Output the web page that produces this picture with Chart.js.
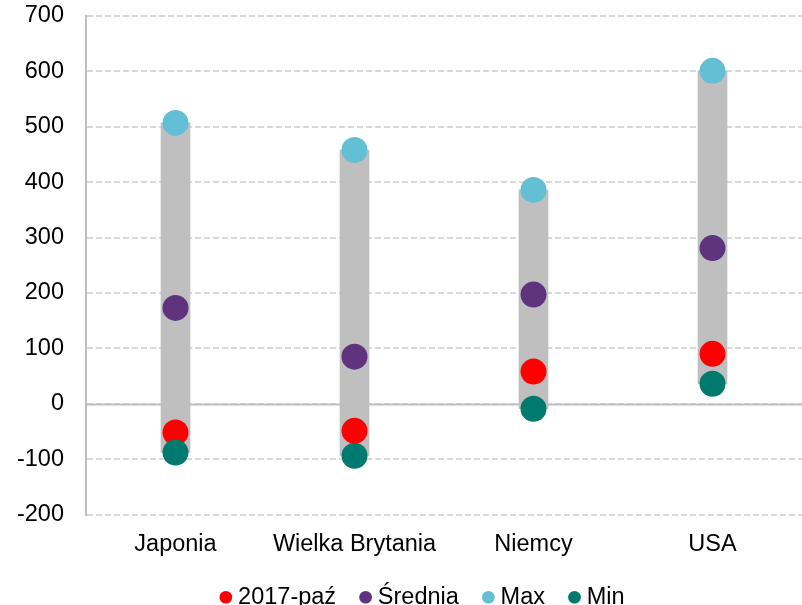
<!DOCTYPE html>
<html>
<head>
<meta charset="utf-8">
<script src="https://cdn.jsdelivr.net/npm/chart.js@4"></script>
<style>
    html, body { margin: 0; padding: 0; background: #fff; overflow: hidden; }
    #wrap { width: 802px; height: 605px; overflow: hidden; }
    #box { width: 802px; height: 620px; }
</style>
</head>
<body>
<div id="wrap"><div id="box"><canvas id="myChart"></canvas></div></div>
<script>
const countries = ['Japonia', 'Wielka Brytania', 'Niemcy', 'USA']
const current = [-52, -49, 58, 90]      // 2017-paź
const average = [173, 85, 197, 281]     // Średnia
const maxVals = [507, 458, 386, 601]
const minVals = [-88, -94, -9, 36]

window.onload = () => {
    Chart.defaults.font.family = '"Liberation Sans", Arial, sans-serif'
    Chart.defaults.font.size = 23.5
    Chart.defaults.color = '#000'

    // solid line at zero, under the bars
    const zeroLine = {
        id: 'zeroLine',
        beforeDatasetsDraw(chart) {
            const {ctx, chartArea, scales: {y}} = chart
            const py = Math.round(y.getPixelForValue(0)) + 0.5
            ctx.save()
            ctx.strokeStyle = '#bfbfbf'
            ctx.lineWidth = 2
            ctx.beginPath()
            ctx.moveTo(chartArea.left, py)
            ctx.lineTo(chartArea.right, py)
            ctx.stroke()
            ctx.restore()
        }
    }

    // legend in the original sits a bit right of the canvas centre
    const nudgeLegend = {
        id: 'nudgeLegend',
        afterLayout(chart) {
            chart.legend.left += 24
            chart.legend.right += 24
        }
    }

    const dot = (label, data, color, order) => ({
        type: 'line',
        label: label,
        data: data,
        showLine: false,
        pointRadius: 13,
        pointHoverRadius: 13,
        pointBackgroundColor: color,
        pointBorderWidth: 0,
        backgroundColor: color,
        borderColor: color,
        order: order,
        clip: false,
    })

    const data = {
        labels: countries,
        datasets: [
            dot('2017-paź', current, '#ff0000', 2),
            dot('Średnia', average, '#5f337e', 3),
            dot('Max', maxVals, '#63bfd4', 4),
            dot('Min', minVals, '#007a6e', 1),
            {
                type: 'bar',
                label: 'range',
                data: minVals.map((m, i) => [m, maxVals[i]]),
                backgroundColor: '#bfbfbf',
                barThickness: 29,
                order: 10,
            },
        ]
    }

    const config = {
        type: 'bar',
        data: data,
        options: {
            responsive: true,
            maintainAspectRatio: false,
            animation: false,
            layout: { autoPadding: false, padding: { top: 16, right: 0, bottom: 1, left: 0 } },
            scales: {
                x: {
                    grid: { display: false },
                    border: { display: false },
                    ticks: { padding: 8 },
                    afterFit: (scale) => { scale.height = 42 },
                },
                y: {
                    min: -200,
                    max: 700,
                    afterFit: (scale) => {
                        scale.width = 86
                        scale.paddingTop = 0
                        scale.paddingBottom = 0
                    },
                    ticks: { stepSize: 100, padding: 22 },
                    grid: { color: '#d9d9d9', lineWidth: 2, drawTicks: false },
                    border: { display: true, color: '#bfbfbf', width: 2, dash: [6, 3] },
                },
            },
            plugins: {
                legend: {
                    position: 'bottom',
                    labels: {
                        usePointStyle: true,
                        pointStyle: 'circle',
                        boxWidth: 1,
                        boxHeight: 9,
                        padding: 29,
                        filter: (item) => item.text !== 'range',
                        sort: (a, b) => a.datasetIndex - b.datasetIndex,
                    },
                },
                tooltip: { enabled: false },
            },
        },
        plugins: [zeroLine, nudgeLegend],
    }

    const ctx = document.getElementById('myChart')
    new Chart(ctx, config)
}
</script>
</body>
</html>
